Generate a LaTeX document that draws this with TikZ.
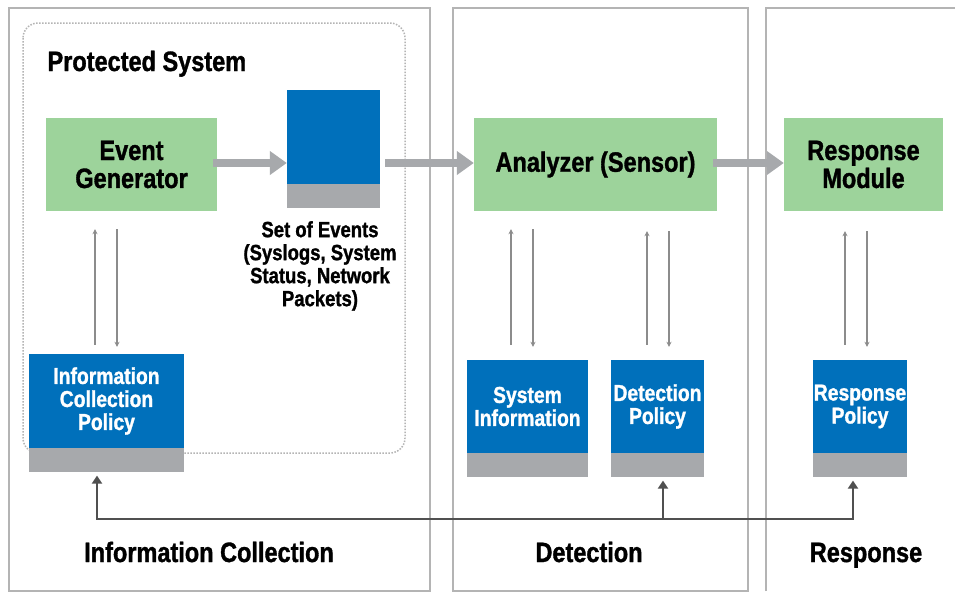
\documentclass[tikz,border=0pt]{standalone}
\usepackage{fontspec}
\setmainfont{Liberation Sans}[FakeStretch=0.84, BoldFeatures={FakeBold=1.2}]
\usetikzlibrary{arrows.meta,calc}
\definecolor{boxgreen}{HTML}{9DD39B}
\definecolor{boxblue}{HTML}{0070BB}
\definecolor{boxgray}{HTML}{A7A9AC}
\definecolor{arrowgray}{HTML}{A7A9AC}
\definecolor{panelgray}{HTML}{B4B4B4}
\definecolor{busgray}{HTML}{505050}
\tikzset{
  greenbox/.style={fill=boxgreen, inner sep=0pt, align=center,
    font=\fontsize{28}{28}\selectfont\bfseries},
  bluebox/.style={fill=boxblue, inner sep=0pt, align=center, text=white,
    font=\fontsize{23}{23}\selectfont\bfseries},
  graybase/.style={fill=boxgray, inner sep=0pt, minimum height=24pt, anchor=north},
  bigarrow/.style={draw=arrowgray, line width=8pt, -{Triangle[width=23pt,length=17pt]}},
  upline/.style={draw=gray!90, line width=1.5pt, -{Stealth[length=5pt,width=5pt]}},
  downline/.style={draw=gray!110!black, line width=1.5pt, -{Stealth[length=5pt,width=5pt]}},
  bus/.style={draw=busgray, line width=2.5pt},
  bustip/.style={-{Triangle[width=10pt,length=8pt]}},
  panel/.style={draw=panelgray, line width=2.5pt},
  label/.style={font=\fontsize{28}{28}\selectfont\bfseries, anchor=base},
}
\begin{document}
\begin{tikzpicture}[x=1pt,y=-1pt]
\useasboundingbox (0,0) rectangle (955,592);
\fill[white] (0,0) rectangle (955,592);
% panels
\draw[panel] (9,8) rectangle (430,591);
\draw[panel] (453,8) rectangle (748,591);
\draw[panel] (766,591) -- (766,8) -- (962,8);
% protected system
\draw[panelgray, line width=1.5pt, dash pattern=on 1.5pt off 1.5pt, rounded corners=15pt] (23,23) rectangle (405,453);
\node[label, anchor=base west] (ps) at (44,71) {Protected System};
% green boxes
\node[greenbox, minimum width=171pt, minimum height=93pt] (eg) at (131.5,164.5) {Event\\Generator};
\node[greenbox, minimum width=243pt, minimum height=93pt] (an) at (595.5,164.5) {Analyzer (Sensor)};
\node[greenbox, minimum width=159pt, minimum height=93pt] (rm) at (863.5,164.5) {Response\\Module};
% set of events
\node[bluebox, minimum width=93pt, minimum height=94pt] (se) at (333.5,137) {};
\node[graybase, minimum width=93pt] (seg) at (se.south) {};
\node[font=\fontsize{22}{23}\selectfont\bfseries, align=center, anchor=north, inner sep=0pt] (setxt) at (320,221) {Set of Events\\(Syslogs, System\\Status, Network\\Packets)};
% blue policy boxes
\node[bluebox, minimum width=155pt, minimum height=94pt] (icp) at (106.5,401) {Information\\Collection\\Policy};
\node[graybase, minimum width=155pt] (icpg) at (icp.south) {};
\node[bluebox, minimum width=121pt, minimum height=93pt] (si) at (527.5,406.5) {System\\Information};
\node[graybase, minimum width=121pt] (sig) at (si.south) {};
\node[bluebox, minimum width=93pt, minimum height=93pt] (dp) at (657.5,406.5) {Detection\\Policy};
\node[graybase, minimum width=93pt] (dpg) at (dp.south) {};
\node[bluebox, minimum width=94pt, minimum height=93pt] (rp) at (860,406.5) {Response\\Policy};
\node[graybase, minimum width=94pt] (rpg) at (rp.south) {};
% big arrows
\draw[bigarrow] ([xshift=-4pt]eg.east |- 0,163) -- (se.west |- 0,163);
\draw[bigarrow] ([xshift=5pt]se.east |- 0,163) -- (an.west |- 0,163);
\draw[bigarrow] ([xshift=-4pt]an.east |- 0,163) -- (rm.west |- 0,163);
% thin arrows
\draw[upline, shorten <=9pt, shorten >=18pt] ([xshift=-11.5pt]icp.north) -- ([xshift=-11.5pt]icp.north |- eg.south);
\draw[downline, shorten <=18pt, shorten >=7pt] ([xshift=10.5pt]icp.north |- eg.south) -- ([xshift=10.5pt]icp.north);
\draw[upline, shorten <=15pt, shorten >=18pt] ([xshift=-16.5pt]si.north) -- ([xshift=-16.5pt]si.north |- an.south);
\draw[downline, shorten <=18pt, shorten >=13pt] ([xshift=5.5pt]si.north |- an.south) -- ([xshift=5.5pt]si.north);
\draw[upline, shorten <=15pt, shorten >=20pt] ([xshift=-10.5pt]dp.north) -- ([xshift=-10.5pt]dp.north |- an.south);
\draw[downline, shorten <=20pt, shorten >=13pt] ([xshift=11.5pt]dp.north |- an.south) -- ([xshift=11.5pt]dp.north);
\draw[upline, shorten <=15pt, shorten >=20pt] ([xshift=-15pt]rp.north) -- ([xshift=-15pt]rp.north |- rm.south);
\draw[downline, shorten <=20pt, shorten >=13pt] ([xshift=7pt]rp.north |- rm.south) -- ([xshift=7pt]rp.north);
% bus
\coordinate (j1) at (97,519);
\coordinate (j2) at (663,519);
\coordinate (j3) at (853,519);
\draw[bus, {Triangle[width=10pt,length=8pt]}-{Triangle[width=10pt,length=8pt]}, shorten <=3pt, shorten >=3pt] (icpg.south -| j1) -- (j1) -- (j3) -- (rpg.south -| j3);
\draw[bus, bustip, shorten >=3pt] (j2) -- (dpg.south -| j2);
% bottom labels
\node[label] (l1) at (209,562) {Information Collection};
\node[label] (l2) at (589,562) {Detection};
\node[label] (l3) at (866,562) {Response};
\end{tikzpicture}
\end{document}
